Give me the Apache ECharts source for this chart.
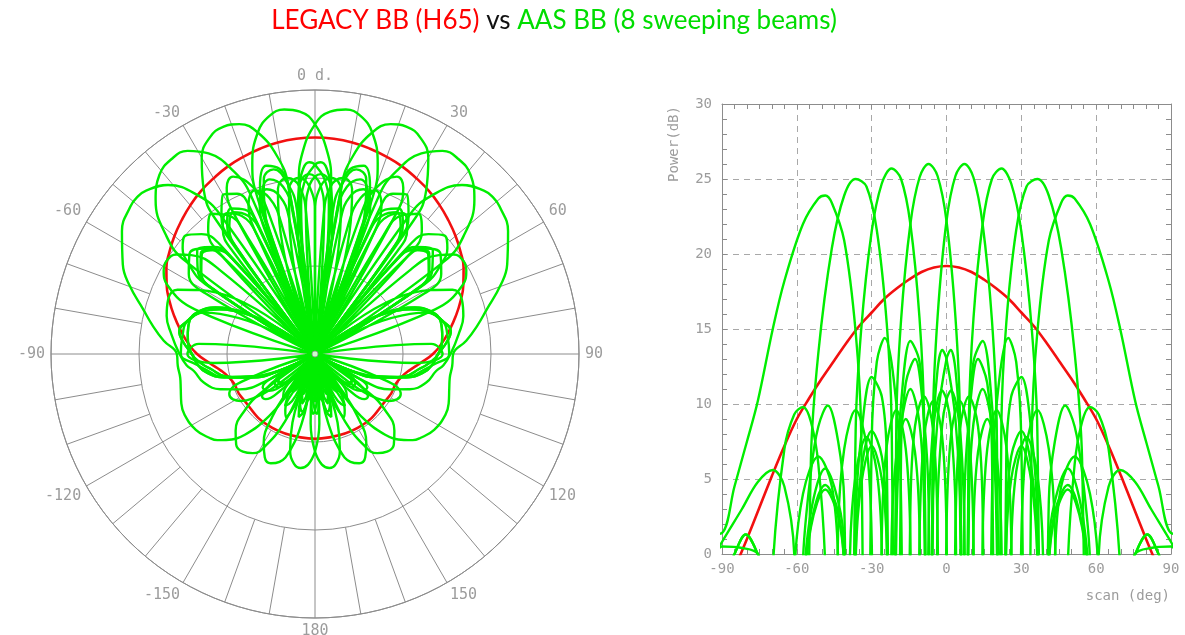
<!DOCTYPE html>
<html><head><meta charset="utf-8">
<script src="https://cdn.jsdelivr.net/npm/echarts@6/dist/echarts.min.js"></script>
<style>html,body{margin:0;padding:0;background:#fff}#c{width:1185px;height:635px}</style>
</head><body><div id="c"></div>
<script>
// ---- data: [angle (deg), power (dB)] ----
const redH65 = [[-180,-10.7],[-150,-10.6],[-120,-10.6],[-110,-10.4],[-105,-9.7],[-100,-8.3],[-95,-6.0],[-90,-3.2],[-85,-1.0],[-80,1.0],[-75,3.1],[-70,5.2],[-65,7.2],[-60,9.0],[-55,10.4],[-50,11.7],[-45,12.9],[-40,14.1],[-35,15.2],[-30,16.1],[-25,17.0],[-20,17.7],[-15,18.3],[-10,18.8],[-5,19.1],[0,19.2],[5,19.1],[10,18.8],[15,18.3],[20,17.7],[25,17.0],[30,16.1],[35,15.2],[40,14.1],[45,12.9],[50,11.7],[55,10.4],[60,9.0],[65,7.2],[70,5.2],[75,3.1],[80,1.0],[85,-1.0],[90,-3.2],[95,-6.0],[100,-8.3],[105,-9.7],[110,-10.4],[120,-10.6],[150,-10.6],[180,-10.7]];

const beamP7 = [[-180,-7.8],[-176.42,-14.2],[-174.62,-20.8],[-172.82,-30],[-171.01,-21.8],[-169.19,-16.9],[-165.52,-15.2],[-161.79,-19.2],[-159.89,-25.3],[-157.98,-30],[-156.03,-26.7],[-154.06,-22.1],[-150,-20.0],[-145.77,-22.2],[-143.58,-27.4],[-141.32,-30],[-138.99,-27.6],[-136.57,-23.5],[-131.41,-20.0],[-125.66,-19.8],[-122.46,-23.4],[-118.96,-30],[-115.01,-21.5],[-110.36,-15.1],[-104.36,-8.7],[-99.5,-4.9],[-95,-3.2],
[-90,-2.0],[-85,0.0],[-80.5,1.3],[-75.64,0.0],[-69.64,-2.5],[-64.99,-6.0],[-61.04,-30],[-57.54,-3.5],[-54.34,1.8],[-48.59,4.3],[-43.43,2.5],[-41.01,-1.0],[-38.68,-30],[-36.42,0.0],[-34.23,5.5],[-30,8.2],[-25.94,6.5],[-23.97,2.0],[-22.02,-30],[-20.11,3.8],[-18.21,10.0],[-14.48,14.2],[-10.81,12.8],[-8.99,8.0],[-7.18,-30],[-5.38,9.2],[-3.58,15.8],[0,22.2],[3.58,25.2],[7.18,26.0],[10.81,25.1],[14.48,22.0],[18.21,15.6],[20.11,8.9],[22.02,-30],[23.97,6.5],[25.94,10.5],[30,11.8],[34.23,7.8],[36.42,2.3],[38.68,-30],[41.01,0.5],[43.43,3.5],[48.59,5.7],[54.34,2.8],[57.54,-3.0],[61.04,-30],[64.99,-6.0],[69.64,-2.5],[75.64,0.0],[80.5,1.3],[85,0.0],[90,-2.0],
[95,-3.2],[99.5,-4.9],[104.36,-8.7],[110.36,-15.1],[115.01,-21.5],[118.96,-30],[122.46,-22.9],[125.66,-18.8],[131.41,-18.6],[136.57,-22.5],[138.99,-26.1],[141.32,-30],[143.58,-25.1],[145.77,-19.9],[150,-16.4],[154.06,-18.1],[156.03,-22.2],[157.98,-30],[159.89,-20.2],[161.79,-13.6],[165.52,-7.4],[169.19,-4.6],[172.82,-3.9],[176.42,-4.8],[180,-7.8]];

const beamM7 = [[-180,-7.8],[-176.42,-4.8],[-172.82,-3.9],[-169.19,-4.6],[-165.52,-7.4],[-161.79,-13.6],[-159.89,-20.2],[-157.98,-30],[-156.03,-22.2],[-154.06,-18.1],[-150,-16.4],[-145.77,-19.9],[-143.58,-25.1],[-141.32,-30],[-138.99,-26.1],[-136.57,-22.5],[-131.41,-18.6],[-125.66,-18.8],[-122.46,-22.9],[-118.96,-30],[-115.01,-21.5],[-110.36,-15.1],[-104.36,-8.7],[-99.5,-4.9],[-95,-3.2],
[-90,-2.0],[-85,0.0],[-80.5,1.3],[-75.64,0.0],[-69.64,-2.5],[-64.99,-6.0],[-61.04,-30],[-57.54,-3.0],[-54.34,2.8],[-48.59,5.7],[-43.43,3.5],[-41.01,0.5],[-38.68,-30],[-36.42,2.3],[-34.23,7.8],[-30,11.8],[-25.94,10.5],[-23.97,6.5],[-22.02,-30],[-20.11,8.9],[-18.21,15.6],[-14.48,22.0],[-10.81,25.1],[-7.18,26.0],[-3.58,25.2],[0,22.2],[3.58,15.8],[5.38,9.2],[7.18,-30],[8.99,8.0],[10.81,12.8],[14.48,14.2],[18.21,10.0],[20.11,3.8],[22.02,-30],[23.97,2.0],[25.94,6.5],[30,8.2],[34.23,5.5],[36.42,0.0],[38.68,-30],[41.01,-1.0],[43.43,2.5],[48.59,4.3],[54.34,1.8],[57.54,-3.5],[61.04,-30],[64.99,-6.0],[69.64,-2.5],[75.64,0.0],[80.5,1.3],[85,0.0],[90,-2.0],
[95,-3.2],[99.5,-4.9],[104.36,-8.7],[110.36,-15.1],[115.01,-21.5],[118.96,-30],[122.46,-23.4],[125.66,-19.8],[131.41,-20.0],[136.57,-23.5],[138.99,-27.6],[141.32,-30],[143.58,-27.4],[145.77,-22.2],[150,-20.0],[154.06,-22.1],[156.03,-26.7],[157.98,-30],[159.89,-25.3],[161.79,-19.2],[165.52,-15.2],[169.19,-16.9],[171.01,-21.8],[172.82,-30],[174.62,-20.8],[176.42,-14.2],[180,-7.8]];

const beamP22 = [[-180,-17.0],[-176.42,-21.0],[-174.62,-26.4],[-172.82,-30],[-171.01,-26.6],[-169.19,-21.0],[-165.52,-18.4],[-161.79,-20.7],[-159.89,-27.8],[-157.98,-30],[-156.03,-28.2],[-154.06,-23.6],[-150,-21.0],[-145.77,-23.1],[-143.58,-27.9],[-141.32,-30],[-138.99,-27.6],[-136.57,-23.2],[-131.41,-19.7],[-125.66,-19.6],[-122.46,-22.9],[-118.96,-30],[-115.01,-20.5],[-110.36,-14.6],[-104.36,-9.2],[-98,-6.0],[-95,-4.2],
[-90,-2.0],[-82,-0.8],[-75.64,-0.5],[-69.64,-2.0],[-64.99,-5.0],[-61.04,-30],[-57.54,-3.0],[-54.34,2.0],[-48.59,4.6],[-43.43,2.8],[-41.01,-1.0],[-38.68,-30],[-36.42,-0.5],[-34.23,4.6],[-30,7.2],[-25.94,5.0],[-23.97,0.5],[-22.02,-30],[-20.11,1.3],[-18.21,8.5],[-14.48,11.0],[-10.81,8.7],[-8.99,3.2],[-7.18,-30],[-5.38,3.6],[-3.58,9.0],[0,13.0],[1.7,13.6],[3.58,12.3],[5.38,7.5],[7.18,-30],[8.99,9.1],[10.81,15.7],[14.48,22.0],[18.21,25.0],[22.02,25.7],[25.94,24.7],[30,21.5],[34.23,14.9],[36.42,8.2],[38.68,-30],[41.01,3.5],[43.43,7.5],[47.6,9.9],[51.38,8.5],[54.34,5.5],[57.54,-0.5],[61.04,-30],[64.99,-5.0],[69.64,-2.0],[75.64,-0.5],[82,-0.8],[90,-2.0],
[95,-4.2],[98,-6.0],[104.36,-9.2],[110.36,-14.6],[115.01,-20.5],[118.96,-30],[122.46,-20.4],[125.66,-16.1],[128.62,-14.6],[132.4,-14.8],[136.57,-18.5],[138.99,-23.1],[141.32,-30],[143.58,-19.2],[145.77,-12.8],[150,-6.7],[154.06,-3.9],[157.98,-3.2],[161.79,-4.2],[165.52,-7.4],[169.19,-14.0],[171.01,-20.7],[172.82,-30],[174.62,-22.5],[176.42,-17.7],[178.3,-16.4],[180,-17.0]];

const beamM22 = [[-180,-17.0],[-178.3,-16.4],[-176.42,-17.7],[-174.62,-22.5],[-172.82,-30],[-171.01,-20.7],[-169.19,-14.0],[-165.52,-7.4],[-161.79,-4.2],[-157.98,-3.2],[-154.06,-3.9],[-150,-6.7],[-145.77,-12.8],[-143.58,-19.2],[-141.32,-30],[-138.99,-23.1],[-136.57,-18.5],[-132.4,-14.8],[-128.62,-14.6],[-125.66,-16.1],[-122.46,-20.4],[-118.96,-30],[-115.01,-20.5],[-110.36,-14.6],[-104.36,-9.2],[-98,-6.0],[-95,-4.2],
[-90,-2.0],[-82,-0.8],[-75.64,-0.5],[-69.64,-2.0],[-64.99,-5.0],[-61.04,-30],[-57.54,-0.5],[-54.34,5.5],[-51.38,8.5],[-47.6,9.9],[-43.43,7.5],[-41.01,3.5],[-38.68,-30],[-36.42,8.2],[-34.23,14.9],[-30,21.5],[-25.94,24.7],[-22.02,25.7],[-18.21,25.0],[-14.48,22.0],[-10.81,15.7],[-8.99,9.1],[-7.18,-30],[-5.38,7.5],[-3.58,12.3],[-1.7,13.6],[0,13.0],[3.58,9.0],[5.38,3.6],[7.18,-30],[8.99,3.2],[10.81,8.7],[14.48,11.0],[18.21,8.5],[20.11,1.3],[22.02,-30],[23.97,0.5],[25.94,5.0],[30,7.2],[34.23,4.6],[36.42,-0.5],[38.68,-30],[41.01,-1.0],[43.43,2.8],[48.59,4.6],[54.34,2.0],[57.54,-3.0],[61.04,-30],[64.99,-5.0],[69.64,-2.0],[75.64,-0.5],[82,-0.8],[90,-2.0],
[95,-4.2],[98,-6.0],[104.36,-9.2],[110.36,-14.6],[115.01,-20.5],[118.96,-30],[122.46,-22.9],[125.66,-19.6],[131.41,-19.7],[136.57,-23.2],[138.99,-27.6],[141.32,-30],[143.58,-27.9],[145.77,-23.1],[150,-21.0],[154.06,-23.6],[156.03,-28.2],[157.98,-30],[159.89,-27.8],[161.79,-20.7],[165.52,-18.4],[169.19,-21.0],[171.01,-26.6],[172.82,-30],[174.62,-26.4],[176.42,-21.0],[180,-17.0]];

const beamP36 = [[-180,-19.7],[-178.21,-19.1],[-174.62,-21.7],[-172.82,-28.4],[-171.01,-30],[-169.19,-28.1],[-167.36,-22.8],[-163.67,-20.4],[-159.89,-22.6],[-157.98,-28.0],[-156.03,-30],[-154.06,-28.3],[-152.05,-22.9],[-147.91,-20.1],[-143.58,-22.1],[-141.32,-27.0],[-138.99,-30],[-136.57,-26.5],[-134.05,-20.8],[-128.62,-16.6],[-122.46,-15.9],[-118.96,-19.5],[-115.01,-30],[-110.36,-15.6],[-104.36,-8.7],[-98,-4.8],[-95,-2.9],
[-90,0.5],[-82,0.4],[-75.64,0.0],[-69.64,-3.0],[-64.99,-30],[-61.04,-1.5],[-57.54,4.0],[-51.38,6.5],[-45.95,4.5],[-43.43,-0.5],[-41.01,-30],[-38.68,0.0],[-36.42,5.3],[-32.09,7.8],[-27.95,5.5],[-25.94,0.3],[-23.97,-30],[-22.02,0.9],[-20.11,6.5],[-16.33,9.0],[-12.64,6.8],[-10.81,1.6],[-8.99,-30],[-7.18,1.5],[-5.38,8.3],[-1.79,10.9],[0,10.3],[1.79,8.5],[3.58,3.2],[5.38,-30],[7.18,3.5],[8.99,9.0],[12.64,13.0],[16.33,11.4],[18.21,7.0],[20.11,-30],[22.02,8.9],[23.97,15.4],[27.95,21.6],[32.09,24.5],[36.42,25.0],[41.01,23.9],[45.95,20.4],[51.38,13.4],[54.34,6.4],[57.54,-30],[61.04,0.0],[64.99,4.5],[69.64,5.6],[75.64,4.8],[82,3.0],[90,0.8],
[95,-0.7],[98,-2.2],[104.36,-3.9],[110.36,-7.0],[115.01,-11.0],[118.96,-18.0],[122.46,-30],[125.66,-15.2],[128.62,-9.7],[134.05,-4.9],[138.99,-2.7],[143.58,-2.4],[147.91,-3.4],[152.05,-6.8],[156.03,-13.3],[157.98,-20.0],[159.89,-30],[161.79,-22.2],[163.67,-18.0],[167.36,-16.6],[171.01,-20.8],[172.82,-26.4],[174.62,-30],[176.42,-26.8],[178.21,-21.5],[180,-19.7]];

const beamM36 = [[-180,-19.7],[-178.21,-21.5],[-176.42,-26.8],[-174.62,-30],[-172.82,-26.4],[-171.01,-20.8],[-167.36,-16.6],[-163.67,-18.0],[-161.79,-22.2],[-159.89,-30],[-157.98,-20.0],[-156.03,-13.3],[-152.05,-6.8],[-147.91,-3.4],[-143.58,-2.4],[-138.99,-2.7],[-134.05,-4.9],[-128.62,-9.7],[-125.66,-15.2],[-122.46,-30],[-118.96,-18.0],[-115.01,-11.0],[-110.36,-7.0],[-104.36,-3.9],[-98,-2.2],[-95,-0.7],
[-90,0.8],[-82,3.0],[-75.64,4.8],[-69.64,5.6],[-64.99,4.5],[-61.04,0.0],[-57.54,-30],[-54.34,6.4],[-51.38,13.4],[-45.95,20.4],[-41.01,23.9],[-36.42,25.0],[-32.09,24.5],[-27.95,21.6],[-23.97,15.4],[-22.02,8.9],[-20.11,-30],[-18.21,7.0],[-16.33,11.4],[-12.64,13.0],[-8.99,9.0],[-7.18,3.5],[-5.38,-30],[-3.58,3.2],[-1.79,8.5],[0,10.3],[1.79,10.9],[5.38,8.3],[7.18,1.5],[8.99,-30],[10.81,1.6],[12.64,6.8],[16.33,9.0],[20.11,6.5],[22.02,0.9],[23.97,-30],[25.94,0.3],[27.95,5.5],[32.09,7.8],[36.42,5.3],[38.68,0.0],[41.01,-30],[43.43,-0.5],[45.95,4.5],[51.38,6.5],[57.54,4.0],[61.04,-1.5],[64.99,-30],[69.64,-3.0],[75.64,0.0],[82,0.4],[90,0.5],
[95,-2.9],[98,-4.8],[104.36,-8.7],[110.36,-15.6],[115.01,-30],[118.96,-19.5],[122.46,-15.9],[128.62,-16.6],[134.05,-20.8],[136.57,-26.5],[138.99,-30],[141.32,-27.0],[143.58,-22.1],[147.91,-20.1],[152.05,-22.9],[154.06,-28.3],[156.03,-30],[157.98,-28.0],[159.89,-22.6],[163.67,-20.4],[167.36,-22.8],[169.19,-28.1],[171.01,-30],[172.82,-28.4],[174.62,-21.7],[178.21,-19.1],[180,-19.7]];

const beamP50 = [[-180,-28.4],[-178.21,-22.1],[-174.62,-19.8],[-171.01,-22.0],[-169.19,-28.6],[-167.36,-30],[-165.52,-28.4],[-163.67,-22.4],[-159.89,-19.5],[-156.03,-21.5],[-154.06,-27.4],[-152.05,-30],[-150,-27.2],[-147.91,-20.7],[-143.58,-17.8],[-138.99,-19.6],[-136.57,-24.3],[-134.05,-30],[-131.41,-25.3],[-128.62,-17.1],[-125.66,-12.8],[-122.46,-10.1],[-118.96,-8.7],[-115.01,-8.5],[-110.36,-13.6],[-104.36,-30],[-95,-6.7],
[-90,-1.0],[-85,-3.5],[-75.64,-30],[-69.64,-1.0],[-64.99,7.0],[-61.04,9.3],[-57.54,9.8],[-54.34,8.8],[-51.38,6.0],[-48.59,-1.0],[-45.95,-30],[-43.43,1.7],[-41.01,7.0],[-36.42,9.6],[-32.09,7.2],[-30,1.0],[-27.95,-30],[-25.94,1.2],[-23.97,7.2],[-20.11,9.6],[-16.33,7.0],[-14.48,1.0],[-12.64,-30],[-10.81,1.1],[-8.99,7.8],[-5.38,10.2],[-1.79,7.9],[0,1.6],[1.79,-30],[3.58,1.5],[5.38,8.3],[8.99,10.5],[12.64,8.5],[14.48,3.1],[16.33,-30],[18.21,3.4],[20.11,10.0],[24.8,14.4],[27.95,12.8],[30,7.5],[32.09,-30],[34.23,8.3],[36.42,14.8],[41.01,20.9],[45.95,23.4],[48.59,23.9],[51.38,23.7],[57.54,22.0],[64.99,18.2],[69.64,15.0],[75.64,10.2],[80,7.5],[85,4.5],[90,1.4],
[95,1.3],[100,1.1],[104.36,1.5],[110.36,2.4],[115.01,2.7],[122.46,2.1],[128.62,0.6],[131.41,-0.4],[134.05,-1.9],[138.99,-5.7],[143.58,-12.6],[145.77,-19.4],[147.91,-30],[150,-20.7],[152.05,-15.6],[155.2,-14.2],[159.89,-19.1],[161.79,-25.8],[163.67,-30],[165.52,-26.3],[167.36,-21.1],[171.01,-19.3],[174.62,-21.7],[176.42,-28.5],[178.21,-30],[180,-28.4]];

const beamM50 = [[-180,-28.4],[-178.21,-30],[-176.42,-28.5],[-174.62,-21.7],[-171.01,-19.3],[-167.36,-21.1],[-165.52,-26.3],[-163.67,-30],[-161.79,-25.8],[-159.89,-19.1],[-155.2,-14.2],[-152.05,-15.6],[-150,-20.7],[-147.91,-30],[-145.77,-19.4],[-143.58,-12.6],[-138.99,-5.7],[-134.05,-1.9],[-131.41,-0.4],[-128.62,0.6],[-122.46,2.1],[-115.01,2.7],[-110.36,2.4],[-104.36,1.5],[-100,1.1],[-95,1.3],
[-90,1.4],[-85,4.5],[-80,7.5],[-75.64,10.2],[-69.64,15.0],[-64.99,18.2],[-57.54,22.0],[-51.38,23.7],[-48.59,23.9],[-45.95,23.4],[-41.01,20.9],[-36.42,14.8],[-34.23,8.3],[-32.09,-30],[-30,7.5],[-27.95,12.8],[-24.8,14.4],[-20.11,10.0],[-18.21,3.4],[-16.33,-30],[-14.48,3.1],[-12.64,8.5],[-8.99,10.5],[-5.38,8.3],[-3.58,1.5],[-1.79,-30],[0,1.6],[1.79,7.9],[5.38,10.2],[8.99,7.8],[10.81,1.1],[12.64,-30],[14.48,1.0],[16.33,7.0],[20.11,9.6],[23.97,7.2],[25.94,1.2],[27.95,-30],[30,1.0],[32.09,7.2],[36.42,9.6],[41.01,7.0],[43.43,1.7],[45.95,-30],[48.59,-1.0],[51.38,6.0],[54.34,8.8],[57.54,9.8],[61.04,9.3],[64.99,7.0],[69.64,-1.0],[75.64,-30],[85,-3.5],[90,-1.0],
[95,-6.7],[104.36,-30],[110.36,-13.6],[115.01,-8.5],[118.96,-8.7],[122.46,-10.1],[125.66,-12.8],[128.62,-17.1],[131.41,-25.3],[134.05,-30],[136.57,-24.3],[138.99,-19.6],[143.58,-17.8],[147.91,-20.7],[150,-27.2],[152.05,-30],[154.06,-27.4],[156.03,-21.5],[159.89,-19.5],[163.67,-22.4],[165.52,-28.4],[167.36,-30],[169.19,-28.6],[171.01,-22.0],[174.62,-19.8],[178.21,-22.1],[180,-28.4]];

// polar grid (dB rings via radius axis ticks; spokes from given radius to outer ring)
const spokeFull = [0, 90, -90, 180];
const spoke30 = [-150, -120, -60, -30, 30, 60, 120, 150];
const spoke10 = [-170,-160,-140,-130,-110,-100,-80,-70,-50,-40,-20,-10,10,20,40,50,70,80,100,110,130,140,160,170];

// ---- chart ----
const RED = '#f21010', GREEN = '#00ee00', AX = '#8c8c8c', LAB = '#9c9c9c';
const MONO = '"DejaVu Sans Mono", "Liberation Mono", monospace';
const greenBeams = [beamM50, beamM36, beamM22, beamM7, beamP7, beamP22, beamP36, beamP50];
const toPolar = arr => arr.map(p => [p[1], p[0]]);

const chart = echarts.init(document.getElementById('c'), null, {renderer: 'canvas'});
const series = [];
function addSpoke(r0, a) {
  series.push({type: 'line', coordinateSystem: 'polar', polarIndex: 0, data: [[r0, a], [30, a]],
    symbol: 'none', silent: true, animation: false, z: 1, lineStyle: {color: AX, width: 1}});
}
spokeFull.forEach(a => addSpoke(-30, a));
spoke30.forEach(a => addSpoke(-10, a));
spoke10.forEach(a => addSpoke(10, a));

series.push({type: 'line', coordinateSystem: 'polar', polarIndex: 0, data: toPolar(redH65), smooth: 0.5,
  symbol: 'none', silent: true, animation: false, z: 3, lineStyle: {color: RED, width: 2.6}});
greenBeams.forEach(b => series.push({type: 'line', coordinateSystem: 'polar', polarIndex: 0, data: toPolar(b),
  smooth: 0.45, symbol: 'none', silent: true, animation: false, z: 4, lineStyle: {color: GREEN, width: 2.4}}));
series.push({type: 'scatter', coordinateSystem: 'polar', polarIndex: 0, data: [[-30, 0]], symbol: 'circle',
  symbolSize: 6, silent: true, animation: false, z: 6, itemStyle: {color: '#fff', borderColor: AX, borderWidth: 1}});

series.push({type: 'line', xAxisIndex: 0, yAxisIndex: 0, data: redH65, smooth: 0.35, clip: true,
  symbol: 'none', silent: true, animation: false, z: 3, lineStyle: {color: RED, width: 2.6}});
greenBeams.forEach(b => series.push({type: 'line', xAxisIndex: 0, yAxisIndex: 0, data: b, smooth: 0.35, clip: true,
  symbol: 'none', silent: true, animation: false, z: 4, lineStyle: {color: GREEN, width: 2.4}}));

const tickCommon = {show: true, inside: true, length: 5, lineStyle: {color: AX, width: 1}};
chart.setOption({
  animation: false,
  backgroundColor: '#fff',
  polar: {center: [315, 354], radius: 264},
  angleAxis: {
    type: 'value', min: -180, max: 180, interval: 30, startAngle: 270, clockwise: true,
    axisLine: {show: true, lineStyle: {color: AX, width: 1}},
    axisTick: {show: false}, splitLine: {show: false},
    axisLabel: {show: true, color: LAB, fontFamily: MONO, fontSize: 15, margin: 6,
      formatter: v => (v === 180 ? '' : (v === -180 ? '180' : (v === 0 ? '0 d.' : String(v))))}
  },
  radiusAxis: {
    type: 'value', min: -30, max: 30, interval: 20,
    axisLine: {show: false}, axisTick: {show: false}, axisLabel: {show: false},
    splitLine: {show: true, lineStyle: {color: AX, width: 1}}
  },
  grid: {left: 722, right: 14, top: 104, bottom: 81, outerBoundsMode: 'none', containLabel: false},
  xAxis: [
    {type: 'value', min: -90, max: 90, interval: 30, position: 'bottom',
      axisLine: {show: true, onZero: false, lineStyle: {color: AX}}, axisTick: tickCommon,
      minorTick: {show: true, splitNumber: 6, length: 5, lineStyle: {color: AX}},
      splitLine: {show: true, lineStyle: {color: '#a8a8a8', type: [6, 5]}},
      axisLabel: {color: LAB, fontFamily: MONO, fontSize: 14, margin: 8}},
    {type: 'value', min: -90, max: 90, interval: 30, position: 'top',
      axisLine: {show: true, onZero: false, lineStyle: {color: AX}}, axisTick: tickCommon,
      minorTick: {show: true, splitNumber: 6, length: 5, lineStyle: {color: AX}},
      splitLine: {show: false}, axisLabel: {show: false}}
  ],
  yAxis: [
    {type: 'value', min: 0, max: 30, interval: 5, position: 'left',
      axisLine: {show: true, onZero: false, lineStyle: {color: AX}}, axisTick: tickCommon,
      minorTick: {show: true, splitNumber: 5, length: 5, lineStyle: {color: AX}},
      splitLine: {show: true, lineStyle: {color: '#a8a8a8', type: [6, 5]}},
      axisLabel: {color: LAB, fontFamily: MONO, fontSize: 14, margin: 10}},
    {type: 'value', min: 0, max: 30, interval: 5, position: 'right',
      axisLine: {show: true, onZero: false, lineStyle: {color: AX}}, axisTick: tickCommon,
      minorTick: {show: true, splitNumber: 5, length: 5, lineStyle: {color: AX}},
      splitLine: {show: false}, axisLabel: {show: false}}
  ],
  graphic: [
    {type: 'text', x: 554, y: 21, z: 10, silent: true, style: {
      text: '{r|LEGACY BB (H65)} {k|vs} {g|AAS BB (8 sweeping beams)}',
      align: 'center', verticalAlign: 'middle', textAlign: 'center', textVerticalAlign: 'middle',
      font: '26px Lato',
      rich: {
        r: {fill: '#ff0000', fontFamily: 'Lato', fontSize: 26},
        k: {fill: '#111111', fontFamily: 'Lato', fontSize: 26},
        g: {fill: '#00dd00', fontFamily: 'Lato', fontSize: 26}
      }}},
    {type: 'text', x: 674, y: 144, rotation: Math.PI / 2, silent: true, style: {
      text: 'Power(dB)', align: 'center', verticalAlign: 'middle', textAlign: 'center', textVerticalAlign: 'middle',
      fill: LAB, font: '14px ' + MONO}},
    {type: 'text', x: 1170, y: 596, silent: true, style: {
      text: 'scan (deg)', align: 'right', verticalAlign: 'middle', textAlign: 'right', textVerticalAlign: 'middle',
      fill: LAB, font: '14px ' + MONO}}
  ],
  series: series
});
</script></body></html>
